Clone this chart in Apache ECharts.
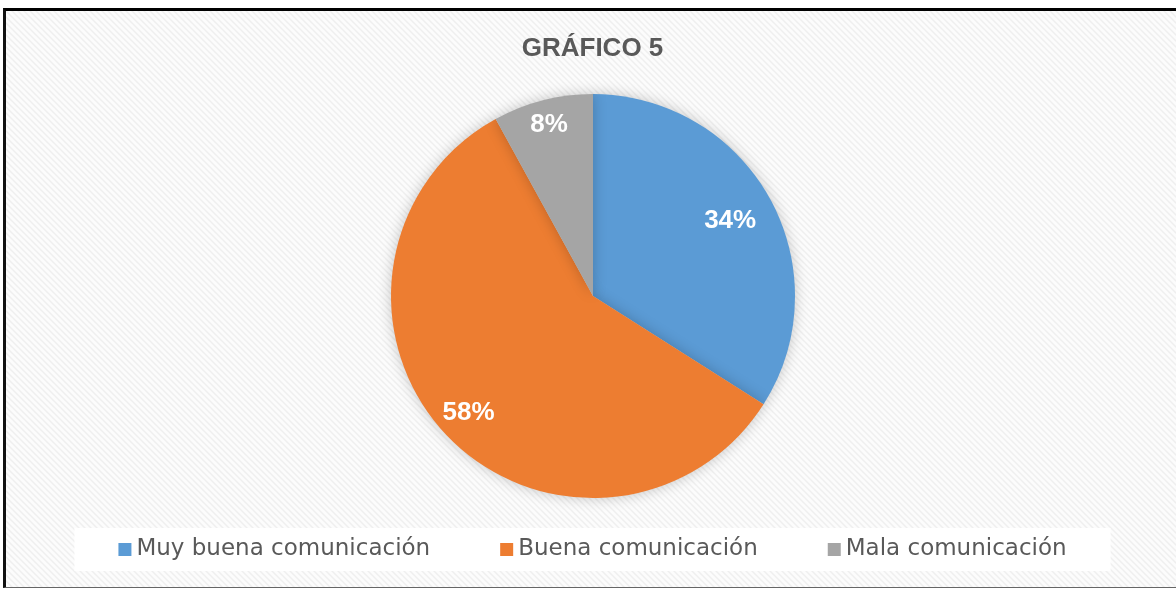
<!DOCTYPE html>
<html>
<head>
<meta charset="utf-8">
<script src="https://cdn.jsdelivr.net/npm/echarts@6/dist/echarts.min.js"></script>
<style>
html,body{margin:0;padding:0;background:#fff;}
#frame{position:absolute;left:3px;top:8px;width:1173px;height:576px;border-top:3px solid #000;border-left:3px solid #111;border-bottom:1px solid #666;}
#grafico5{width:1173px;height:576px;}
</style>
</head>
<body>
<div id="frame"><div id="grafico5"></div></div>
<script>
var categorias=['Muy buena comunicación','Buena comunicación','Mala comunicación'];
var porcentajes=[34,58,8];
var colores=['#5B9BD5','#ED7D31','#A5A5A5'];
// donde cae cada etiqueta, fraccion del radio (estilo excel "mejor ajuste")
var radioEtiqueta=[0.76,0.83,0.86];

var RADIO=202;

//fondo rayado
function rayado(){
	var c=document.createElement('canvas');
	c.width=6;c.height=6;
	var ctx=c.getContext('2d');
	ctx.fillStyle='#fcfcfc';
	ctx.fillRect(0,0,6,6);
	ctx.strokeStyle='#efefef';
	ctx.lineWidth=1.5;
	ctx.beginPath();
	ctx.moveTo(-1,-1);ctx.lineTo(7,7);
	ctx.moveTo(-4,2);ctx.lineTo(4,10);
	ctx.moveTo(2,-4);ctx.lineTo(10,4);
	ctx.stroke();
	return c;
}

var datos=[];
for(var i=0;i<categorias.length;i++){
	datos.push({value:porcentajes[i],name:categorias[i],itemStyle:{color:colores[i]}});
}

var total=0;
for(var i=0;i<porcentajes.length;i++){ total+=porcentajes[i]; }

var option={
	backgroundColor:{image:rayado(),repeat:'repeat'},
	title:{
		text:'GRÁFICO 5',
		left:'center',
		top:20,
		textStyle:{fontFamily:'Liberation Sans, Arial, sans-serif',fontSize:26,fontWeight:'bold',color:'#595959'}
	},
	legend:{
		data:categorias,
		left:'center',
		top:517,
		icon:'rect',
		itemWidth:13,
		itemHeight:13,
		itemGap:70,
		backgroundColor:'#ffffff',
		padding:[10,44],
		textStyle:{fontFamily:'DejaVu Sans, sans-serif',fontSize:23,color:'#595959'}
	},
	series:[
		{
			name:'Gráfico 5',
			type:'pie',
			center:[587,285],
			radius:RADIO,
			startAngle:90,
			clockwise:true,
			silent:true,
			label:{
				show:true,
				position:'inside',
				formatter:'{c}%',
				color:'#ffffff',
				fontFamily:'Liberation Sans, Arial, sans-serif',
				fontSize:26,
				fontWeight:'bold'
			},
			labelLayout:function(p){
				var acum=0;
				for(var j=0;j<p.dataIndex;j++){ acum+=porcentajes[j]; }
				var medio=(acum+porcentajes[p.dataIndex]/2)/total*2*Math.PI;
				var extra=(radioEtiqueta[p.dataIndex]-0.5)*RADIO;
				return {dx:Math.sin(medio)*extra,dy:-Math.cos(medio)*extra};
			},
			itemStyle:{
				shadowBlur:14,
				shadowColor:'rgba(0,0,0,0.22)'
			},
			data:datos
		}
	]
};

var myChart=echarts.init(document.getElementById('grafico5'));
myChart.setOption(option);
</script>
</body>
</html>
